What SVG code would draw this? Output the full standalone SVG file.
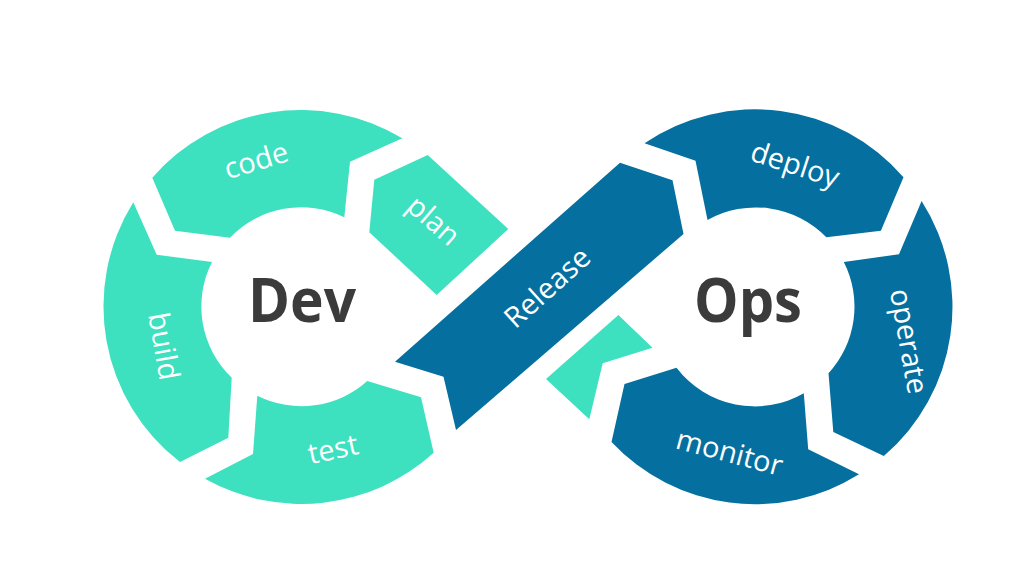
<svg xmlns="http://www.w3.org/2000/svg" width="1024" height="576" viewBox="0 0 1024 576">
<style>
.dev{fill:#3DE0BF}
.ops{fill:#05709F}
.l{font-family:"Open Sans","Liberation Sans",sans-serif;font-size:29px;fill:#fff;text-anchor:middle}
.h{font-family:"Open Sans","Liberation Sans",sans-serif;font-size:61px;font-weight:700;fill:#3B3B3B;text-anchor:middle}
</style>
<rect width="1024" height="576" fill="#fff"/>
<g id="code"><path class="dev" d="M152.3 177.7A196.5 196.5 0 0 1 402.3 138.3L350 161.7L344.3 217.3A98.5 98.5 0 0 0 230 237.7L175 230.7Z"/><text class="l" transform="translate(259 170) rotate(-17)">code</text></g>
<g id="plan"><path class="dev" d="M374.3 179.7L427.7 155L508.3 229L436.7 295L369.3 232.3Z"/><text class="l" transform="translate(427 228) rotate(41)">plan</text></g>
<g id="build"><path class="dev" d="M133.3 202.3L156.7 254.7L212 262A98.5 98.5 0 0 0 231.7 377.7L228.3 437.7L180 462A196.5 196.5 0 0 1 133.3 202.3Z"/><text class="l" transform="translate(154 348) rotate(80)">build</text></g>
<g id="test"><path class="dev" d="M257.3 395.7A98.5 98.5 0 0 0 367.3 381L421 397.3L433.7 452.7A196.5 196.5 0 0 1 205 478.7L253 454Z"/><text class="l" transform="translate(335 459) rotate(-12)">test</text></g>
<g id="dev"><text class="h" x="302" y="322" textLength="108" lengthAdjust="spacingAndGlyphs">Dev</text></g>
<g id="release"><path class="ops" d="M395 361.7L620 162.7L672.5 180.3L683.5 234L456 430L443.5 376.7Z"/><text class="l" transform="translate(554 295) rotate(-42)">Release</text></g>
<g id="loop"><path class="dev" d="M546 379L618.4 315L652.5 347.7L602.7 363.3L589.3 419.3Z"/></g>
<g id="deploy"><path class="ops" d="M644.5 143.3A196.5 196.5 0 0 1 903.5 177.3L880.9 230.7L826.4 237.3A98.5 98.5 0 0 0 707.5 220L695.5 160.7Z"/><text class="l" transform="translate(792 174) rotate(18)">deploy</text></g>
<g id="operate"><path class="ops" d="M921.6 201A196.5 196.5 0 0 1 883.8 456L833.3 432L828.5 373.3A98.5 98.5 0 0 0 843.8 262L899 254.3Z"/><text class="l" transform="translate(899 343) rotate(80)">operate</text></g>
<g id="monitor"><path class="ops" d="M624.5 384L676.5 367.7A98.5 98.5 0 0 0 803.8 393.3L808.2 449.3L859 474.3A196.5 196.5 0 0 1 611.5 442Z"/><text class="l" transform="translate(727 462) rotate(15)">monitor</text></g>
<g id="ops"><text class="h" x="748" y="322" textLength="108" lengthAdjust="spacingAndGlyphs">Ops</text></g>
</svg>
